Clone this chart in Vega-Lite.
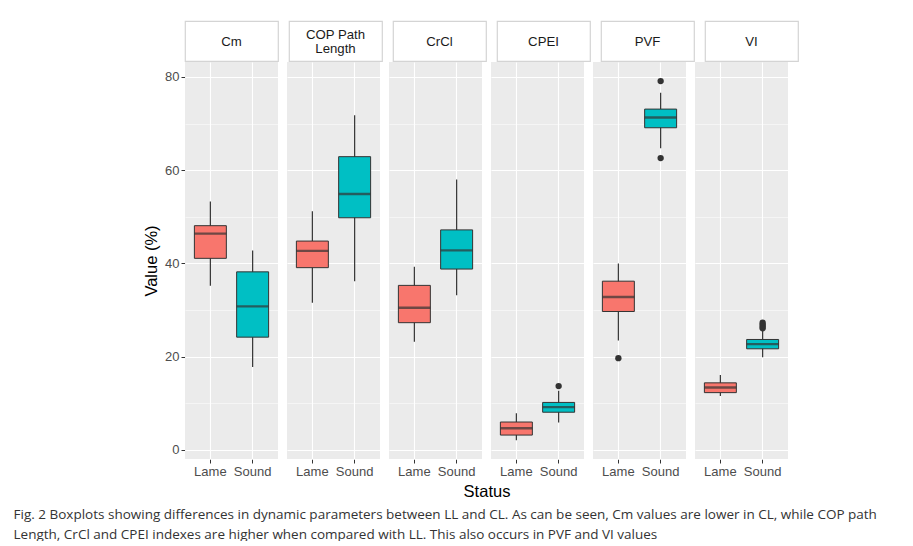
{
  "$schema": "https://vega.github.io/schema/vega-lite/v6.json",
  "padding": {"left": 13, "top": 20, "right": 5, "bottom": 0},
  "background": "white",
  "config": {
    "font": "Liberation Sans",
    "view": {"stroke": null},
    "axis": {"domain": false}
  },
  "datasets": {
    "strips": [
      {"param": "Cm", "label": "Cm"},
      {"param": "COP Path Length", "label": "COP Path\nLength"},
      {"param": "CrCl", "label": "CrCl"},
      {"param": "CPEI", "label": "CPEI"},
      {"param": "PVF", "label": "PVF"},
      {"param": "VI", "label": "VI"}
    ],
    "stats": [
      {"param": "Cm", "status": "Lame", "kind": "box", "lower": 35.2, "q1": 41.1, "median": 46.4, "q3": 48.1, "upper": 53.3},
      {"param": "Cm", "status": "Sound", "kind": "box", "lower": 17.8, "q1": 24.2, "median": 30.8, "q3": 38.2, "upper": 42.8},
      {"param": "COP Path Length", "status": "Lame", "kind": "box", "lower": 31.6, "q1": 39.1, "median": 42.7, "q3": 44.8, "upper": 51.2},
      {"param": "COP Path Length", "status": "Sound", "kind": "box", "lower": 36.2, "q1": 49.8, "median": 54.9, "q3": 62.9, "upper": 71.8},
      {"param": "CrCl", "status": "Lame", "kind": "box", "lower": 23.2, "q1": 27.3, "median": 30.5, "q3": 35.3, "upper": 39.3},
      {"param": "CrCl", "status": "Sound", "kind": "box", "lower": 33.2, "q1": 38.8, "median": 42.8, "q3": 47.2, "upper": 58.0},
      {"param": "CPEI", "status": "Lame", "kind": "box", "lower": 2.1, "q1": 3.2, "median": 4.65, "q3": 6.0, "upper": 7.9},
      {"param": "CPEI", "status": "Sound", "kind": "box", "lower": 5.9, "q1": 8.1, "median": 9.2, "q3": 10.2, "upper": 12.7},
      {"param": "PVF", "status": "Lame", "kind": "box", "lower": 23.5, "q1": 29.7, "median": 32.8, "q3": 36.2, "upper": 40.0},
      {"param": "PVF", "status": "Sound", "kind": "box", "lower": 64.7, "q1": 69.1, "median": 71.3, "q3": 73.1, "upper": 76.6},
      {"param": "VI", "status": "Lame", "kind": "box", "lower": 11.6, "q1": 12.3, "median": 13.4, "q3": 14.4, "upper": 16.1},
      {"param": "VI", "status": "Sound", "kind": "box", "lower": 19.9, "q1": 21.7, "median": 22.7, "q3": 23.7, "upper": 25.5},
      {"param": "CPEI", "status": "Sound", "kind": "outlier", "value": 13.7},
      {"param": "PVF", "status": "Lame", "kind": "outlier", "value": 19.7},
      {"param": "PVF", "status": "Sound", "kind": "outlier", "value": 79.1},
      {"param": "PVF", "status": "Sound", "kind": "outlier", "value": 62.6},
      {"param": "VI", "status": "Sound", "kind": "outlier", "value": 27.3},
      {"param": "VI", "status": "Sound", "kind": "outlier", "value": 26.9},
      {"param": "VI", "status": "Sound", "kind": "outlier", "value": 26.5},
      {"param": "VI", "status": "Sound", "kind": "outlier", "value": 26.1}
    ]
  },
  "spacing": 0,
  "vconcat": [
    {
      "data": {"name": "strips"},
      "facet": {
        "column": {
          "field": "param", "type": "nominal",
          "sort": ["Cm", "COP Path Length", "CrCl", "CPEI", "PVF", "VI"],
          "header": {"labels": false, "title": null}
        }
      },
      "spacing": 9,
      "spec": {
        "width": 93,
        "height": 40,
        "view": {"fill": "white", "stroke": "#D4D4D4", "strokeWidth": 1.2},
        "layer": [
          {
            "transform": [{"filter": "indexof(datum.label, '\\n') < 0"}],
            "mark": {"type": "text", "fontSize": 13.2, "color": "#1A1A1A", "baseline": "middle", "align": "center", "dy": 1},
            "encoding": {"text": {"field": "label", "type": "nominal"}}
          },
          {
            "transform": [{"filter": "indexof(datum.label, '\\n') >= 0"}],
            "mark": {"type": "text", "fontSize": 13.2, "color": "#1A1A1A", "lineBreak": "\n", "lineHeight": 14.5, "dy": -6.5, "baseline": "middle", "align": "center"},
            "encoding": {"text": {"field": "label", "type": "nominal"}}
          }
        ]
      }
    },
    {
      "data": {"name": "stats"},
      "facet": {
        "column": {
          "field": "param", "type": "nominal",
          "sort": ["Cm", "COP Path Length", "CrCl", "CPEI", "PVF", "VI"],
          "header": {"labels": false, "title": "Status", "titleOrient": "bottom", "titleFontSize": 16.5, "titleFontWeight": "normal", "titleColor": "#000000", "titlePadding": -4}
        }
      },
      "spacing": 9,
      "spec": {
        "width": 93,
        "height": 397,
        "view": {"fill": "#EBEBEB", "stroke": null},
        "encoding": {
          "x": {
            "field": "status", "type": "nominal",
            "scale": {"type": "band", "paddingInner": 0.2435, "paddingOuter": 0.2218},
            "axis": {"title": null, "bandPosition": 0.5, "grid": true, "gridColor": "white", "gridWidth": 1.1, "labelAngle": 0, "labelFontSize": 13, "labelColor": "#4D4D4D", "tickColor": "#333333", "tickSize": 4, "labelPadding": 2}
          }
        },
        "layer": [
          {
            "transform": [{"filter": "datum.kind === 'box'"}],
            "mark": {"type": "rule", "color": "#333333", "strokeWidth": 1.2},
            "encoding": {
              "y": {
                "field": "lower", "type": "quantitative", "title": "Value (%)",
                "scale": {"domain": [-1.93, 83.2], "nice": false, "zero": false},
                "axis": {
                  "values": [0, 10, 20, 30, 40, 50, 60, 70, 80],
                  "labelExpr": "datum.value % 20 === 0 ? datum.label : ''",
                  "grid": true, "gridColor": "white",
                  "gridWidth": {"condition": {"test": "datum.value % 20 === 0", "value": 1.1}, "value": 0.5},
                  "tickOpacity": {"condition": {"test": "datum.value % 20 === 0", "value": 1}, "value": 0},
                  "tickColor": "#333333", "tickSize": 4,
                  "labelFontSize": 13, "labelColor": "#4D4D4D", "labelPadding": 2,
                  "titleFontSize": 16.5, "titleFontWeight": "normal", "titleColor": "#000000", "titlePadding": 5
                }
              },
              "y2": {"field": "upper"}
            }
          },
          {
            "transform": [{"filter": "datum.kind === 'box'"}],
            "mark": {"type": "bar", "stroke": "#333333", "strokeWidth": 1},
            "encoding": {
              "y": {"field": "q1", "type": "quantitative", "title": "Value (%)"},
              "y2": {"field": "q3"},
              "fill": {"field": "status", "type": "nominal", "scale": {"domain": ["Lame", "Sound"], "range": ["#F8766D", "#00BFC4"]}, "legend": null}
            }
          },
          {
            "transform": [{"filter": "datum.kind === 'box'"}],
            "mark": {"type": "tick", "color": "#333333", "thickness": 2.4, "size": 32},
            "encoding": {
              "y": {"field": "median", "type": "quantitative", "title": "Value (%)"}
            }
          },
          {
            "transform": [{"filter": "datum.kind === 'outlier'"}],
            "mark": {"type": "point", "filled": true, "color": "#333333", "opacity": 1, "size": 40},
            "encoding": {
              "y": {"field": "value", "type": "quantitative", "title": "Value (%)"}
            }
          }
        ]
      }
    }
  ],
  "title": {
    "text": [
      "Fig. 2 Boxplots showing differences in dynamic parameters between LL and CL. As can be seen, Cm values are lower in CL, while COP path",
      "Length, CrCl and CPEI indexes are higher when compared with LL. This also occurs in PVF and VI values"
    ],
    "orient": "bottom",
    "anchor": "start",
    "font": "Open Sans",
    "fontSize": 13.5,
    "fontWeight": "normal",
    "color": "#333333",
    "lineHeight": 20,
    "offset": 7,
    "dx": -130
  }
}
